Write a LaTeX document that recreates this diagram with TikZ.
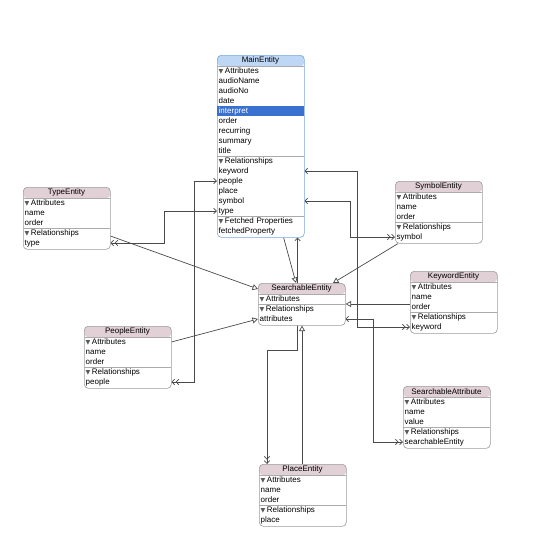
\documentclass[tikz,border=0pt]{standalone}
\usepackage{fontspec}
\setmainfont{Liberation Sans}
\newfontfamily\dejavu{DejaVu Sans}
\usetikzlibrary{arrows.meta,backgrounds}
\definecolor{boxgray}{HTML}{9C9C9C}
\definecolor{hdrpink}{HTML}{E2D0D7}
\definecolor{hdrblue}{HTML}{BDD7F5}
\definecolor{mainborder}{HTML}{7AA7DD}
\definecolor{hl}{HTML}{3A70D0}
\definecolor{linegray}{HTML}{4A4A4A}
\definecolor{trigray}{HTML}{5A5A5A}
\definecolor{sepgray}{HTML}{ABABAB}
\newcommand\rowfont{\fontsize{8}{9}\selectfont}
\newcommand\tri{{\color{trigray}\fontsize{6.2}{6}\selectfont\dejavu ▼}\hspace{1.5pt}}
\tikzset{
  tone/.tip={Straight Barb[length=2.8pt,width=5.5pt]},
  tmany/.tip={Straight Barb[length=2.8pt,width=5.5pt,sep=0.6pt] Straight Barb[length=2.8pt,width=5.5pt]},
  tinh/.tip={Triangle[open,length=5.5pt,width=6pt,fill=white]},
  rel/.style={draw=linegray, line width=0.7pt},
  inherit/.style={draw=linegray, line width=0.7pt, -tinh},
  ebox/.style={draw=boxgray, fill=white, rounded corners=4pt, minimum width=87pt,
    inner sep=0pt, anchor=north west, line width=0.6pt,
    path picture={\fill[#1] (path picture bounding box.north west) rectangle ([yshift=-11pt]path picture bounding box.north east);
      \draw[sepgray, line width=0.5pt] ([yshift=-11pt]path picture bounding box.north west) -- ([yshift=-11pt]path picture bounding box.north east);}},
  headtxt/.style={font=\rowfont, inner sep=0pt},
  row/.style={anchor=west, inner xsep=1.5pt, inner ysep=0pt, text width=84pt,
    text height=5.8pt, text depth=1.8pt,
    minimum height=10pt, align=left, font=\rowfont},
  prow/.style={},
  hrow/.style={fill=hl, text=white},
  sep/.style={draw=sepgray, line width=0.5pt}
}
% #1 name, #2 x, #3 top, #4 title, #5 header colour, #6 number of rows, #7 rows, #8 extra box options
\newcommand\entity[8]{%
  \node[ebox=#5, minimum height={12pt+10pt*#6}, #8] (#1) at (#2,#3) {};
  \node[headtxt] (#1-head) at ({#2+43.5},{#3+5.5}) {#4};
  \foreach \rkey/\rtxt/\rsty [count=\ri] in {#7}{%
    \node[row,\rsty] (#1-\rkey) at ({#2},{#3+6+10*\ri}) {\rtxt};}%
}
\newcommand\sepline[1]{\draw[sep] (#1.north west) -- (#1.north east);}
\begin{document}
\begin{tikzpicture}[x=1pt,y=-1pt]
\useasboundingbox (0,0) rectangle (540,557);

\entity{mainE}{217}{55}{MainEntity}{hdrblue}{17}{attrs/\tri Attributes/prow,audioName/audioName/prow,audioNo/audioNo/prow,date/date/prow,interpret/interpret/hrow,order/order/prow,recurring/recurring/prow,summary/summary/prow,title/title/prow,rels/\tri Relationships/prow,keyword/keyword/prow,people/people/prow,place/place/prow,symbol/symbol/prow,type/type/prow,fetch/\tri Fetched Properties/prow,fetchedProperty/fetchedProperty/prow}{draw=mainborder}
\sepline{mainE-rels}
\sepline{mainE-fetch}

\entity{typeE}{23}{187}{TypeEntity}{hdrpink}{5}{attrs/\tri Attributes/prow,name/name/prow,order/order/prow,rels/\tri Relationships/prow,type/type/prow}{}
\sepline{typeE-rels}

\entity{symE}{395}{181}{SymbolEntity}{hdrpink}{5}{attrs/\tri Attributes/prow,name/name/prow,order/order/prow,rels/\tri Relationships/prow,symbol/symbol/prow}{}
\sepline{symE-rels}

\entity{keyE}{410}{271}{KeywordEntity}{hdrpink}{5}{attrs/\tri Attributes/prow,name/name/prow,order/order/prow,rels/\tri Relationships/prow,keyword/keyword/prow}{}
\sepline{keyE-rels}

\entity{srchE}{258}{283}{SearchableEntity}{hdrpink}{3}{attrs/\tri Attributes/prow,rels/\tri Relationships/prow,attributes/attributes/prow}{}
\sepline{srchE-rels}

\entity{peopE}{84}{326}{PeopleEntity}{hdrpink}{5}{attrs/\tri Attributes/prow,name/name/prow,order/order/prow,rels/\tri Relationships/prow,people/people/prow}{}
\sepline{peopE-rels}

\entity{attrE}{403}{386}{SearchableAttribute}{hdrpink}{5}{attrs/\tri Attributes/prow,name/name/prow,value/value/prow,rels/\tri Relationships/prow,searchableEntity/searchableEntity/prow}{}
\sepline{attrE-rels}

\entity{placeE}{259}{464}{PlaceEntity}{hdrpink}{5}{attrs/\tri Attributes/prow,name/name/prow,order/order/prow,rels/\tri Relationships/prow,place/place/prow}{}
\sepline{placeE-rels}

\begin{pgfonlayer}{background}
\fill[white] (0,0) rectangle (540,557);
% relationships
\draw[rel, tone-tmany] (mainE-type.west) -- ++(-53,0) |- (typeE-type.east);
\draw[rel, tone-tmany] (mainE-people.west) -- ++(-23,0) |- (peopE-people.east);
\draw[rel, tone-tmany] (mainE-symbol.east) -- ++(46,0) |- (symE-symbol.west);
\draw[rel, tone-tmany] (mainE-keyword.east) -- ++(53,0) |- (keyE-keyword.west);
\draw[rel, tone-tmany] ([xshift=-7pt]mainE.south east) -- ++(0,113) -| ([xshift=8pt]placeE.north west);
\draw[rel, tone-tmany] (srchE-attributes.east) -- ++(28,0) |- (attrE-searchableEntity.west);
% inheritance
\draw[inherit] ([yshift=-3pt]typeE-rels.east) -- ([yshift=-6pt]srchE.north west);
\draw[inherit] (peopE-attrs.east) -- (srchE-attributes.west);
\draw[inherit] ([xshift=-21pt]mainE.south east) -- ([xshift=38pt]srchE.north west);
\draw[inherit] ([xshift=3pt]symE.south west) -- ([xshift=75pt]srchE.north west);
\draw[inherit] ([yshift=3pt]keyE-order.west) -- ([yshift=3pt]keyE-order.west -| srchE.east);
\draw[inherit] ([xshift=43pt]placeE.north west) -- ([xshift=43pt]placeE.north west |- srchE.south);
\end{pgfonlayer}
\end{tikzpicture}
\end{document}
